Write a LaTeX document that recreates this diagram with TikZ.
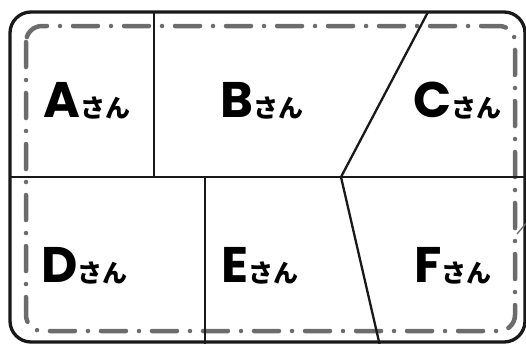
\documentclass[tikz,border=0pt]{standalone}
\usepackage{fontspec}
\newfontfamily\namefont{Poppins}
\newfontfamily\kanafont{Noto Sans CJK JP}
\definecolor{seamgray}{RGB}{108,108,108}
\newcommand{\san}[1]{{\namefont\bfseries\fontsize{50}{50}\selectfont #1}{\kanafont\bfseries\fontsize{25}{25}\selectfont さん}}

\begin{document}
\begin{tikzpicture}[x=1pt,y=-1pt,
    edge/.style={draw=black!90,line width=2.3pt},
    seam/.style={draw=seamgray,line width=4.5pt,line cap=round,dash pattern=on 25pt off 13pt on 0.01pt off 13pt,rounded corners=16pt},
    person/.style={anchor=base west,inner sep=0pt}]
    \useasboundingbox (0,0) rectangle (526,343);
    \clip (0,0) rectangle (526,343);
    % joints of the cut lines
    \coordinate (tl) at (154,12); \coordinate (tm) at (154,177);
    \coordinate (ml) at (10,177); \coordinate (mr) at (530,177);
    \coordinate (tc) at (428,12); \coordinate (mc) at (341,177);
    \coordinate (bc) at (380,346);
    \coordinate (me) at (205,177); \coordinate (be) at (205,346);
    % outer frame and dashed seam
    \draw[black!90,line width=3.3pt,rounded corners=21pt] (10,12) rectangle (525,342);
    \draw[seam] (26,26) rectangle (515,331);
    \draw[seamgray,line width=1.3pt] (517,234) -- (528,221);
    \draw[edge] (tl) -- (tm); \draw[edge] (ml) -- (mr);
    \draw[edge] (tc) -- (mc) -- (bc); \draw[edge] (me) -- (be);
    % names
    \node[person] (a) at (43,117) {\san{A}};
    \node[person] (b) at (220,117) {\san{B}};
    \node[person] (c) at (413,117) {\san{C}};
    \node[person] (d) at (41,282) {\san{D}};
    \node[person] (e) at (221,282) {\san{E}};
    \node[person] (f) at (414,282) {\san{F}};
  \end{tikzpicture}
\end{document}
